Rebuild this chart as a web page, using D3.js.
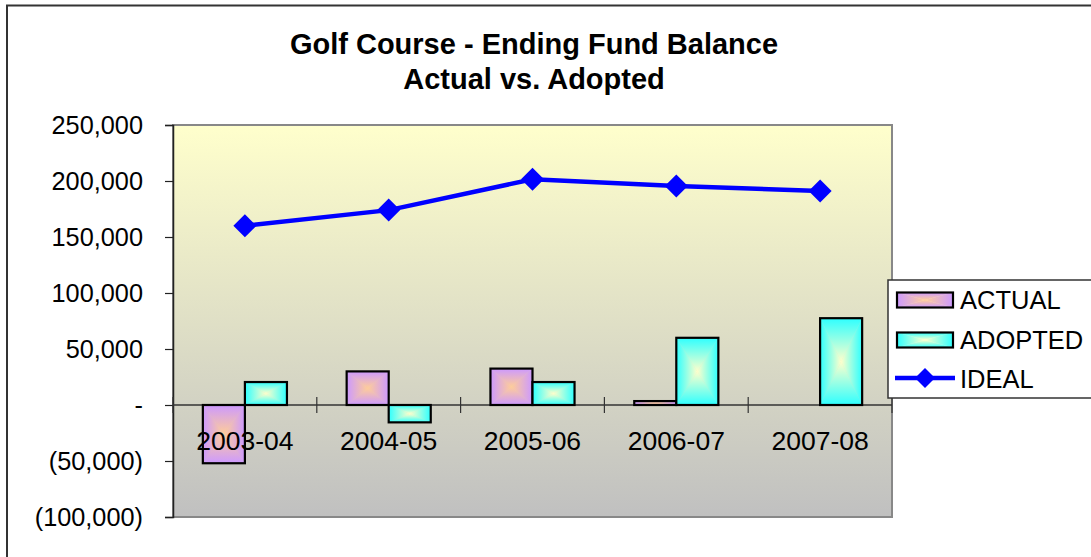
<!DOCTYPE html>
<html>
<head>
<meta charset="utf-8">
<script src="https://cdn.jsdelivr.net/npm/d3@7"></script>
<style>
  html, body { margin: 0; padding: 0; background: #fff; }
  svg { display: block; font-family: Arial, "Liberation Sans", sans-serif; }
</style>
</head>
<body>
<svg id="chart" width="1091" height="557"></svg>
<script>
// Fiscal years and fund balances
const categories = ["2003-04", "2004-05", "2005-06", "2006-07", "2007-08"];
const actual  = [-52000, 30000, 32500, 3500, 0];
const adopted = [20500, -15500, 20500, 60000, 77500];
const ideal   = [160000, 174000, 201500, 195500, 191000];
const yTicks  = [250000, 200000, 150000, 100000, 50000, 0, -50000, -100000];
const titleLines = ["Golf Course - Ending Fund Balance", "Actual vs. Adopted"];

const barSeries = [
  { name: "ACTUAL",  values: actual,  edge: "#CC99FF", center: "#FFCC99" },
  { name: "ADOPTED", values: adopted, edge: "#2EFFFF", center: "#FFFFCC" }
];

const svg = d3.select("#chart");
const plot = { left: 173, right: 892, top: 125, bottom: 517 };

const y = d3.scaleLinear().domain([-100000, 250000]).range([plot.bottom, plot.top]);
const x0 = d3.scaleBand().domain(categories).range([plot.left, plot.right]).padding(0);
const x1 = d3.scaleBand().domain(barSeries.map(s => s.name))
  .range([0, x0.bandwidth()]).paddingInner(0).paddingOuter(0.71);

const defs = svg.append("defs");

// Plot background: pale yellow fading to grey
const bg = defs.append("linearGradient").attr("id", "plotBg")
  .attr("x1", 0).attr("y1", 0).attr("x2", 0).attr("y2", 1);
bg.append("stop").attr("offset", 0).attr("stop-color", "#FFFFCC");
bg.append("stop").attr("offset", 1).attr("stop-color", "#C0C0C0");

// Rectangular "from centre" fill built from four edge-to-centre gradients
const dirs = {
  top:    { x1: 0, y1: 0, x2: 0, y2: 1 },
  bottom: { x1: 0, y1: 1, x2: 0, y2: 0 },
  left:   { x1: 0, y1: 0, x2: 1, y2: 0 },
  right:  { x1: 1, y1: 0, x2: 0, y2: 0 }
};
barSeries.forEach((s, i) => {
  Object.entries(dirs).forEach(([k, d]) => {
    const g = defs.append("linearGradient").attr("id", `g${i}-${k}`)
      .attr("x1", d.x1).attr("y1", d.y1).attr("x2", d.x2).attr("y2", d.y2);
    g.append("stop").attr("offset", 0).attr("stop-color", s.edge);
    g.append("stop").attr("offset", 1).attr("stop-color", s.center);
  });
});

function gradientBox(g, si, bx, by, bw, bh) {
  const cx = bx + bw / 2, cy = by + bh / 2;
  const tris = {
    top:    [[bx, by], [bx + bw, by], [cx, cy]],
    bottom: [[bx, by + bh], [bx + bw, by + bh], [cx, cy]],
    left:   [[bx, by], [bx, by + bh], [cx, cy]],
    right:  [[bx + bw, by], [bx + bw, by + bh], [cx, cy]]
  };
  Object.entries(tris).forEach(([k, pts]) => {
    g.append("polygon").attr("points", pts.map(p => p.join(",")).join(" "))
      .attr("fill", `url(#g${si}-${k})`).attr("stroke", `url(#g${si}-${k})`)
      .attr("stroke-width", 0.4);
  });
  g.append("rect").attr("x", bx).attr("y", by).attr("width", bw).attr("height", bh)
    .attr("fill", "none").attr("stroke", "#000").attr("stroke-width", 2.2);
}

// Outer chart frame
svg.append("rect").attr("x", 7).attr("y", 5.5).attr("width", 1100).attr("height", 570)
  .attr("fill", "#fff").attr("stroke", "#333").attr("stroke-width", 2);

// Title
const title = svg.append("text").attr("x", 534).attr("text-anchor", "middle")
  .attr("font-weight", "bold").attr("font-size", 29).attr("fill", "#000");
title.selectAll("tspan").data(titleLines).join("tspan")
  .attr("x", 534).attr("y", (d, i) => 54 + i * 35).text(d => d);

// Plot area
svg.append("rect").attr("x", plot.left).attr("y", plot.top)
  .attr("width", plot.right - plot.left).attr("height", plot.bottom - plot.top)
  .attr("fill", "url(#plotBg)").attr("stroke", "#888").attr("stroke-width", 2);

// Y axis
const fmt = d3.format(",");
const yAxis = d3.axisLeft(y).tickValues(yTicks).tickSize(8).tickPadding(22)
  .tickFormat(v => v === 0 ? "-" : v < 0 ? `(${fmt(-v)})` : fmt(v));
const yg = svg.append("g").attr("transform", `translate(${plot.left},0)`).call(yAxis);
yg.select(".domain").attr("stroke", "#222").attr("stroke-width", 1.5);
yg.selectAll(".tick line").attr("stroke", "#222").attr("stroke-width", 1.2);
yg.selectAll(".tick text").attr("font-size", 25.3).attr("fill", "#000")
  .attr("font-family", "Arial, 'Liberation Sans', sans-serif");

// Zero baseline with category tick marks crossing it
svg.append("line").attr("x1", plot.left).attr("x2", plot.right)
  .attr("y1", y(0)).attr("y2", y(0)).attr("stroke", "#333").attr("stroke-width", 1.3);
const xTickPos = categories.map(c => x0(c)).concat([plot.right]);
svg.selectAll(".xtick").data(xTickPos).join("line").attr("class", "xtick")
  .attr("x1", d => d).attr("x2", d => d)
  .attr("y1", y(0) - 8).attr("y2", y(0) + 8)
  .attr("stroke", "#333").attr("stroke-width", 1.2);

// Bars
barSeries.forEach((s, si) => {
  s.values.forEach((v, ci) => {
    if (v === 0) return;
    const bx = x0(categories[ci]) + x1(s.name);
    const by = Math.min(y(v), y(0));
    const bh = Math.abs(y(v) - y(0));
    gradientBox(svg.append("g"), si, bx, by, x1.bandwidth(), bh);
  });
});

// Category labels
svg.selectAll(".xlabel").data(categories).join("text").attr("class", "xlabel")
  .attr("x", d => x0(d) + x0.bandwidth() / 2).attr("y", y(0) + 45)
  .attr("text-anchor", "middle").attr("font-size", 26.5).attr("fill", "#000").text(d => d);

// IDEAL line
const lineGen = d3.line().x((d, i) => x0(categories[i]) + x0.bandwidth() / 2).y(d => y(d));
svg.append("path").datum(ideal).attr("d", lineGen)
  .attr("fill", "none").attr("stroke", "#0000FF").attr("stroke-width", 4.5);
const diamond = r => `M0,${-r}L${r},0L0,${r}L${-r},0Z`;
svg.selectAll(".pt").data(ideal).join("path").attr("class", "pt")
  .attr("transform", (d, i) => `translate(${x0(categories[i]) + x0.bandwidth() / 2},${y(d)})`)
  .attr("d", diamond(11.5)).attr("fill", "#0000FF");

// Legend
const lg = svg.append("g");
lg.append("rect").attr("x", 888).attr("y", 280).attr("width", 240).attr("height", 118)
  .attr("fill", "#fff").attr("stroke", "#333").attr("stroke-width", 1.5);
barSeries.forEach((s, si) => {
  const cy = 300 + si * 40;
  gradientBox(lg.append("g"), si, 897, cy - 7.5, 56, 15);
  lg.append("text").attr("x", 960).attr("y", cy + 8.5).attr("font-size", 25.5)
    .attr("fill", "#000").text(s.name);
});
lg.append("line").attr("x1", 895).attr("x2", 955).attr("y1", 378).attr("y2", 378)
  .attr("stroke", "#0000FF").attr("stroke-width", 4.5);
lg.append("path").attr("transform", "translate(925,378)").attr("d", diamond(10)).attr("fill", "#0000FF");
lg.append("text").attr("x", 960).attr("y", 388).attr("font-size", 25.5).attr("fill", "#000").text("IDEAL");
</script>
</body>
</html>
